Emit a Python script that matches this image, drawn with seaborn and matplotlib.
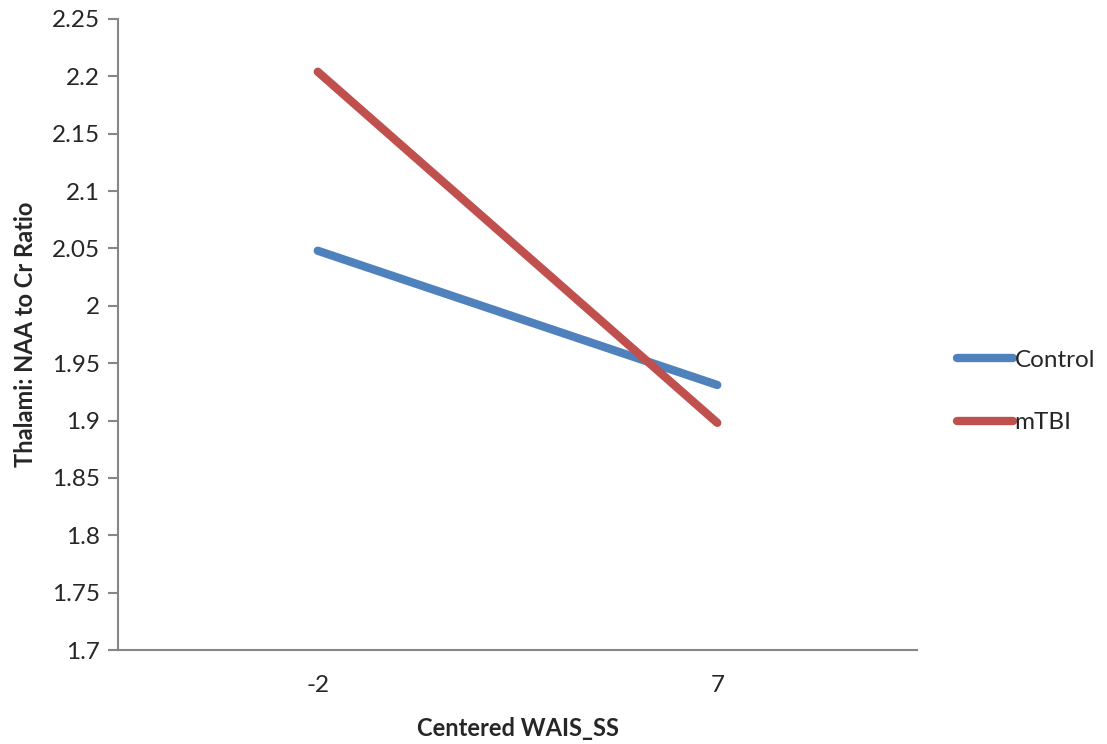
import seaborn as sns
import matplotlib.pyplot as plt
import pandas as pd
import numpy as np

# Data
wais_levels = ['-2', '7']
control_vals = [2.048, 1.931]
mtbi_vals = [2.204, 1.898]
groups = ['Control', 'mTBI']

df = pd.DataFrame({
    'WAIS': wais_levels * 2,
    'NAA_Cr': control_vals + mtbi_vals,
    'Group': [groups[0]] * 2 + [groups[1]] * 2,
})
df['pos'] = df['WAIS'].map({lvl: i for i, lvl in enumerate(wais_levels)})

sns.set_style('white')
plt.rcParams['font.family'] = ['Lato', 'DejaVu Sans']

fig = plt.figure(figsize=(11.07, 7.44), dpi=100)
ax = fig.add_axes([0.1066, 0.1263, 0.7218, 0.8482])

sns.lineplot(data=df, x='pos', y='NAA_Cr', hue='Group',
             palette={'Control': '#4F81BD', 'mTBI': '#C0504D'},
             linewidth=6, ax=ax, legend=False)
for line in ax.get_lines():
    line.set_solid_capstyle('round')

ax.set_xlim(-0.5, len(wais_levels) - 0.5)
ax.set_xticks(range(len(wais_levels)))
ax.set_xticklabels(wais_levels)
ax.set_ylim(1.7, 2.25)
ax.set_yticks(np.arange(1.7, 2.2501, 0.05))
ax.set_yticklabels([f'{v:g}' for v in np.round(np.arange(1.7, 2.2501, 0.05), 2)])

for side in ['top', 'right']:
    ax.spines[side].set_visible(False)
for side in ['left', 'bottom']:
    ax.spines[side].set_color('#868686')
    ax.spines[side].set_linewidth(1.5)

ax.tick_params(axis='y', length=7, width=1.5, color='#868686', direction='out',
               labelsize=17.5, pad=6, left=True)
ax.tick_params(axis='x', length=0, labelsize=17.5, pad=18)

ax.set_xlabel('Centered WAIS_SS', fontsize=17, fontweight='bold', labelpad=15)
ax.set_ylabel('Thalami: NAA to Cr Ratio', fontsize=17, fontweight='bold', labelpad=11)

handles = [plt.Line2D([], [], color='#4F81BD', lw=6, solid_capstyle='round'),
           plt.Line2D([], [], color='#C0504D', lw=6, solid_capstyle='round')]
fig.legend(handles, groups, loc='center left', bbox_to_anchor=(0.845, 0.474),
           frameon=False, fontsize=17.5, handlelength=2.3, handletextpad=0.05,
           labelspacing=1.7)

plt.savefig('out.png', dpi=100)
plt.close()
